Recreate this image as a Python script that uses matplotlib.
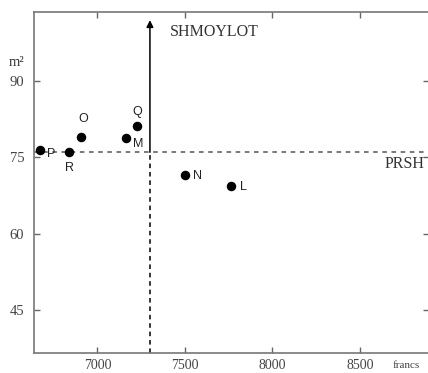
import matplotlib
matplotlib.use("Agg")
import matplotlib.pyplot as plt

# Price (francs) vs surface (m²) for each dwelling
names = ["P", "R", "O", "M", "Q", "N", "L"]
prices = [6670, 6840, 6905, 7165, 7225, 7500, 7765]
surfaces = [76.4, 76.0, 79.1, 78.9, 81.2, 71.6, 69.4]

# Reference lines
ref_price = 7300
ref_surface = 76.0

x_ticks = [7000, 7500, 8000, 8500]
y_ticks = [45, 60, 75, 90]

label_offsets = {
    "P": (5, -3, "left", "center"),
    "R": (0, -7, "center", "top"),
    "O": (2, 8, "center", "bottom"),
    "M": (5, -4.5, "left", "center"),
    "Q": (0, 6, "center", "bottom"),
    "N": (6, -1, "left", "center"),
    "L": (6, -1, "left", "center"),
}

serif = ["Liberation Serif", "DejaVu Serif"]
sans = ["Liberation Sans", "DejaVu Sans"]

fig = plt.figure(figsize=(4.28, 3.73), dpi=100)
ax = fig.add_axes([34 / 428, 20 / 373, 395 / 428, 341 / 373])

ax.set_xlim(6637, 8896)
ax.set_ylim(36.5, 103.6)

# Dashed horizontal reference
ax.axhline(ref_surface, color="#555555", lw=1.1, ls=(0, (3, 3)), zorder=1)
# Vertical reference: dashed below, solid arrow above
ax.plot([ref_price, ref_price], [36.5, ref_surface], color="black", lw=1.1,
        ls=(0, (3, 2.5)), zorder=1)
ax.annotate("", xy=(ref_price, 102.0), xytext=(ref_price, ref_surface),
            arrowprops=dict(arrowstyle="-|>", color="black", lw=1.1,
                            mutation_scale=10, shrinkA=0, shrinkB=0))

ax.scatter(prices, surfaces, s=34, color="black", zorder=3, clip_on=False)
for n, x, y in zip(names, prices, surfaces):
    dx, dy, ha, va = label_offsets[n]
    ax.annotate(n, (x, y), xytext=(dx, dy), textcoords="offset points",
                ha=ha, va=va, fontsize=9, family=sans, color="#222222")

ax.text(7415, 99.6, "SHMOYLOT", family=serif, fontsize=11.5, color="#333333",
        ha="left", va="center")
ax.text(8873, 73.6, "PRSH", family=serif, fontsize=11.5, color="#333333",
        ha="right", va="center")

ax.set_xticks(x_ticks)
ax.set_yticks(y_ticks)
ax.set_xticklabels([str(v) for v in x_ticks], family=serif, fontsize=10, color="#444444")
ax.set_yticklabels([str(v) for v in y_ticks], family=serif, fontsize=10.5, color="#444444")
ax.tick_params(direction="in", length=4, width=1, color="#666666",
               top=True, right=True, pad=7)
ax.tick_params(axis="x", pad=4.5)

for s in ax.spines.values():
    s.set_color("#777777")
    s.set_linewidth(1.2)

fig.text(9 / 428, 1 - 62 / 373, "m²", family=serif, fontsize=10.5, color="#333333",
         ha="left", va="center")
fig.text(406 / 428, 1 - 366 / 373, "francs", family=serif, fontsize=8, color="#444444",
         ha="center", va="center")

fig.savefig("out.png", dpi=100)
